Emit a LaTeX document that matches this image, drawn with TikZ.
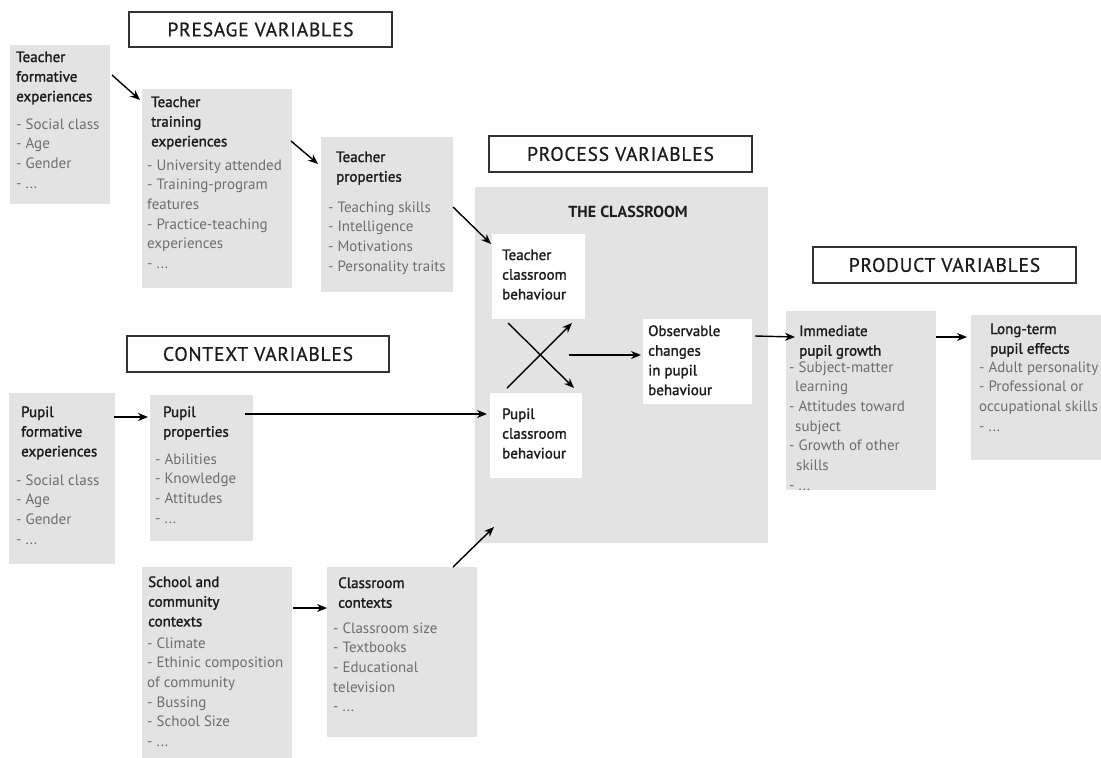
\documentclass[tikz,border=0pt]{standalone}
\usepackage{fontspec}
\setmainfont{PT Sans}
\newfontfamily\hdrfont[LetterSpace=4,FakeBold=0.7]{PT Sans}
\newfontfamily\ttlfont[FakeBold=1.5]{PT Sans}
\usetikzlibrary{arrows.meta}
\definecolor{boxgray}{RGB}{227,227,227}
\definecolor{ttlcol}{RGB}{28,28,28}
\definecolor{lstcol}{RGB}{110,110,110}
\definecolor{framecol}{RGB}{50,50,50}
\newcommand{\bodysize}{\fontsize{15}{19.7}\selectfont}
% stacked lines whose reference point is the first baseline
\newcommand{\stack}[1]{\begin{tabular}[t]{@{}l@{}}#1\end{tabular}}
\tikzset{
  panel/.style={fill=boxgray, draw=none, anchor=north west, inner sep=0pt, outer sep=0pt},
  whitebox/.style={fill=white, draw=none, anchor=north west, inner sep=0pt, outer sep=0pt},
  header/.style={draw=framecol, line width=1.1pt, fill=white, anchor=north west,
    inner sep=0pt, outer sep=0pt, font=\hdrfont\fontsize{19.5}{20}\selectfont, text=ttlcol},
  ttl/.style={anchor=base west, inner sep=0pt, font=\ttlfont\bodysize, text=ttlcol},
  lst/.style={anchor=base west, inner sep=0pt, font=\bodysize, text=lstcol},
  arr/.style={draw=black, line width=1.4pt, -{Stealth[length=10pt,width=8pt]}}
}
\begin{document}
\begin{tikzpicture}[x=1pt,y=-1pt]
\useasboundingbox (0,0) rectangle (1101,758);

% ---------- section headers ----------
\node[header, minimum width=263, minimum height=35] (hpre) at (129,12) {PRESAGE VARIABLES};
\node[header, minimum width=263, minimum height=36] (hpro) at (489,136) {PROCESS VARIABLES};
\node[header, minimum width=262, minimum height=36] (hcon) at (127,336) {CONTEXT VARIABLES};
\node[header, minimum width=263, minimum height=36] (hprd) at (813,247) {PRODUCT VARIABLES};

% ---------- grey panels ----------
\node[panel, minimum width=100, minimum height=159] (tfe) at (10,45) {};
\node[panel, minimum width=150, minimum height=199] (tte) at (142,89) {};
\node[panel, minimum width=132, minimum height=155] (tp) at (321,137) {};
\node[panel, minimum width=293, minimum height=356] (room) at (475,187) {};
\node[panel, minimum width=150, minimum height=179] (ipg) at (786,311) {};
\node[panel, minimum width=130, minimum height=145] (ltpe) at (971,315) {};
\node[panel, minimum width=106, minimum height=171] (pfe) at (9,393) {};
\node[panel, minimum width=103, minimum height=146] (pp) at (150,395) {};
\node[panel, minimum width=150, minimum height=191] (scc) at (142,567) {};
\node[panel, minimum width=150, minimum height=170] (cc) at (327,567) {};

% ---------- classroom interior ----------
\node[whitebox, minimum width=93, minimum height=85] (tcb) at (492,234) {};
\node[whitebox, minimum width=92, minimum height=85] (pcb) at (490,393) {};
\node[whitebox, minimum width=109, minimum height=85] (ocpb) at (643,319) {};

% ---------- texts ----------
\node[ttl] (tfeT) at (16,62) {\stack{Teacher\\formative\\experiences}};
\node[lst] (tfeL) at (16,129) {\stack{- Social class\\- Age\\- Gender\\- ...}};

\node[ttl] (tteT) at (151,107) {\stack{Teacher\\training\\experiences}};
\node[lst] (tteL) at (147,170) {\stack{- University attended\\- Training-program\\features\\- Practice-teaching\\experiences\\- ...}};

\node[ttl] (tpT) at (336,162) {\stack{Teacher\\properties}};
\node[lst] (tpL) at (328,212) {\stack{- Teaching skills\\- Intelligence\\- Motivations\\- Personality traits}};

\node[anchor=base, inner sep=0pt, font=\fontsize{16}{19.7}\selectfont\bfseries, text=ttlcol] (roomT) at (628,217) {THE CLASSROOM};
\node[ttl] (tcbT) at (502,260) {\stack{Teacher\\classroom\\behaviour}};
\node[ttl] (pcbT) at (502,419) {\stack{Pupil\\classroom\\behaviour}};
\node[ttl] (ocpbT) at (648,336) {\stack{Observable\\changes\\in pupil\\behaviour}};

\node[ttl] (ipgT) at (799,336) {\stack{Immediate\\pupil growth}};
\node[lst] (ipgL) at (789,372) {\stack{- Subject-matter\\\hspace*{6pt}learning\\- Attitudes toward\\\hspace*{6pt}subject\\- Growth of other\\\hspace*{7pt}skills\\- ...}};

\node[ttl] (ltpeT) at (990,334) {\stack{Long-term\\pupil effects}};
\node[lst] (ltpeL) at (979,372) {\stack{- Adult personality\\- Professional or\\occupational skills\\- ...}};

\node[ttl] (pfeT) at (21,417) {\stack{Pupil\\formative\\experiences}};
\node[lst] (pfeL) at (16,485) {\stack{- Social class\\- Age\\- Gender\\- ...}};

\node[ttl] (ppT) at (163,417) {\stack{Pupil\\properties}};
\node[lst] (ppL) at (155,464) {\stack{- Abilities\\- Knowledge\\- Attitudes\\- ...}};

\node[ttl] (sccT) at (148,587) {\stack{School and\\community\\contexts}};
\node[lst] (sccL) at (147,648) {\stack{- Climate\\- Ethinic composition\\of community\\- Bussing\\- School Size\\- ...}};

\node[ttl] (ccT) at (338,588) {\stack{Classroom\\contexts}};
\node[lst] (ccL) at (333,633) {\stack{- Classroom size\\- Textbooks\\- Educational\\television\\- ...}};

% ---------- connectors ----------
\draw[arr] ([shift={(2,30)}]tfe.north east) -- ([shift={(-2,11)}]tte.north west);
\draw[arr] ([shift={(-1,52)}]tte.north east) -- ([shift={(-3,27)}]tp.north west);
\draw[arr] ([shift={(0,70)}]tp.north east) -- ([shift={(-1,10)}]tcb.north west);

\draw[arr] ([shift={(16,4)}]tcb.south west) -- ([shift={(-8,-5)}]pcb.north east);
\draw[arr] ([shift={(17,-5)}]pcb.north west) -- ([shift={(-13,4)}]tcb.south east);
\coordinate (inter) at (569,355);
\draw[arr] (inter) -- ([xshift=-2]ocpb.west |- inter);

\draw[arr] ([shift={(3,17)}]ocpb.north east) -- ([shift={(9,26)}]ipg.north west);
\draw[arr] ([shift={(0,26)}]ipg.north east) -- ([shift={(-4,22)}]ltpe.north west);

\draw[arr] ([shift={(-1,24)}]pfe.north east) -- ([shift={(-2,22)}]pp.north west);
\draw[arr] ([shift={(-8,19)}]pp.north east) -- ([shift={(-3,21)}]pcb.north west);
\draw[arr] ([shift={(1,41)}]scc.north east) -- ([shift={(0,41)}]cc.north west);
\draw[arr] ([shift={(-24,0)}]cc.north east) -- ([shift={(19,-16)}]room.south west);
\end{tikzpicture}
\end{document}
